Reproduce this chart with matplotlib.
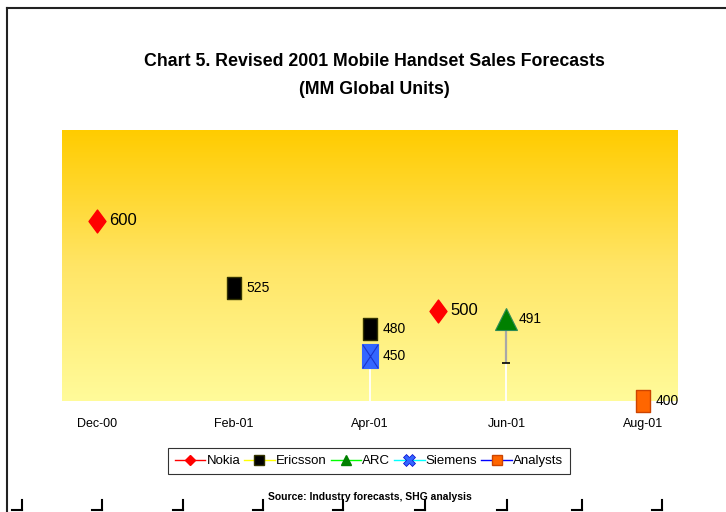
import matplotlib
matplotlib.use("Agg")
import matplotlib.pyplot as plt
import numpy as np
from matplotlib.path import Path
from matplotlib.lines import Line2D
from matplotlib.colors import LinearSegmentedColormap

plt.rcParams['font.family'] = ['Liberation Sans', 'DejaVu Sans']

# ---- data ----
month_labels = ["Dec-00", "Feb-01", "Apr-01", "Jun-01", "Aug-01"]
month_ticks = [0, 2, 4, 6, 8]          # months after Dec-00

nokia_x = [0, 5]
nokia_y = [600, 500]
ericsson_x = [2, 4]
ericsson_y = [525, 480]
arc_x = [6]
arc_y = [491]
arc_low = [442]
siemens_x = [4]
siemens_y = [450]
analysts_x = [8]
analysts_y = [400]

y_min, y_max = 400, 701

# ---- figure ----
W, H = 726, 512
fig = plt.figure(figsize=(W / 100, H / 100), dpi=100)
fig.patch.set_facecolor("white")

L, R, T, B = 62, 678, 130, 401
ax = fig.add_axes([L / W, 1 - B / H, (R - L) / W, (B - T) / H])
ax.set_xlim(-0.513, 8.513)
ax.set_ylim(y_min, y_max)

# gradient background
cmap = LinearSegmentedColormap.from_list("bg", ["#FFFB9A", "#FFE566", "#FFCC00"])
grad = np.linspace(0, 1, 256).reshape(-1, 1)
ax.imshow(grad, extent=[0, 1, 0, 1], transform=ax.transAxes, cmap=cmap,
          aspect="auto", origin="lower", zorder=0)

for s in ax.spines.values():
    s.set_visible(False)
ax.set_yticks([])
ax.set_xticks(month_ticks)
ax.set_xticklabels(month_labels, fontsize=9)
ax.tick_params(axis="x", length=0, pad=12)

# drop lines
ax.vlines(siemens_x, y_min, siemens_y, colors="white", lw=1.3, zorder=2)
ax.vlines(arc_x, y_min, arc_low, colors="white", lw=1.3, zorder=2)
ax.vlines(arc_x, arc_low, arc_y, colors="#A8A8A8", lw=1.6, zorder=2)
ax.plot(arc_x, arc_low, marker="_", ms=6, mew=1.2, color="black", ls="none", zorder=3)

rect = [(-0.33, -0.5), (0.33, -0.5), (0.33, 0.5), (-0.33, 0.5), (-0.33, -0.5)]
rect_marker = Path(rect, [Path.MOVETO, Path.LINETO, Path.LINETO, Path.LINETO, Path.CLOSEPOLY])
xmark = Path([(-0.33, -0.5), (0.33, 0.5), (-0.33, 0.5), (0.33, -0.5)],
             [Path.MOVETO, Path.LINETO, Path.MOVETO, Path.LINETO])
diamond = Path([(0, -0.5), (0.37, 0), (0, 0.5), (-0.37, 0), (0, -0.5)],
               [Path.MOVETO, Path.LINETO, Path.LINETO, Path.LINETO, Path.CLOSEPOLY])

kw = dict(ls="none", zorder=4, clip_on=False)
ax.plot(nokia_x, nokia_y, marker=diamond, ms=16.5, mfc="#FF0000", mec="#FF0000", **kw)
ax.plot(ericsson_x, ericsson_y, marker=rect_marker, ms=16, mfc="black", mec="#333300", mew=1, **kw)
ax.plot(arc_x, arc_y, marker="^", ms=16, mfc="#008000", mec="#2E8B57", mew=0.8, **kw)
ax.plot(siemens_x, siemens_y, marker=rect_marker, ms=17, mfc="#3366FF", mec="#3366FF", mew=0.8, **kw)
ax.plot(siemens_x, siemens_y, marker=xmark, ms=17, mfc="none", mec="#1A33CC", mew=0.8, **kw)
ax.plot(analysts_x, analysts_y, marker=rect_marker, ms=16, mfc="#FF6600", mec="#CC4400", mew=1, **kw)

# data labels
def label(xs, ys, size):
    for x, y in zip(xs, ys):
        ax.annotate(f"{y}", (x, y), xytext=(9, 0), textcoords="offset points",
                    va="center", ha="left", fontsize=size, zorder=5, annotation_clip=False)

label(nokia_x, nokia_y, 12)
label(ericsson_x, ericsson_y, 10)
label(arc_x, arc_y, 10)
label(siemens_x, siemens_y, 10)
label(analysts_x, analysts_y, 10)

# legend
handles = [
    Line2D([], [], color="#FF0000", lw=1, marker="D", ms=5, mfc="#FF0000", mec="#FF0000"),
    Line2D([], [], color="#FFFF00", lw=1, marker="s", ms=7, mfc="black", mec="#333300"),
    Line2D([], [], color="#00FF00", lw=1, marker="^", ms=7, mfc="#008000", mec="#008000"),
    Line2D([], [], color="#00FFFF", lw=1, marker="X", ms=8, mfc="#3366FF", mec="#0000CC", mew=0.5),
    Line2D([], [], color="#0000FF", lw=1, marker="s", ms=7, mfc="#FF6600", mec="#CC4400"),
]
names = ["Nokia", "Ericsson", "ARC", "Siemens", "Analysts"]
leg = fig.legend(handles, names, loc="center", bbox_to_anchor=(369 / W, 1 - 461 / H),
                 ncol=5, fontsize=9.5, frameon=True, fancybox=False, handlelength=2.3,
                 handletextpad=0.1, columnspacing=0.3, borderpad=0.55, borderaxespad=0,
                 edgecolor="black")
leg.get_frame().set_linewidth(0.8)

# titles
fig.text(374 / W, 1 - 61 / H, "Chart 5. Revised 2001 Mobile Handset Sales Forecasts",
         ha="center", va="center", fontsize=12.8, fontweight="bold")
fig.text(374 / W, 1 - 89 / H, "(MM Global Units)",
         ha="center", va="center", fontsize=12.8, fontweight="bold")
fig.text(370 / W, 1 - 497 / H, "Source: Industry forecasts, SHG analysis",
         ha="center", va="center", fontsize=7.5, fontweight="bold", zorder=5)

# page border
fig.add_artist(Line2D([7 / W, 7 / W], [0, 1 - 8 / H], color="#222222", lw=1.5))
fig.add_artist(Line2D([7 / W, 1], [1 - 8 / H, 1 - 8 / H], color="#222222", lw=1.5))

# crop marks
for xr in [22, 102, 183, 263, 343, 425, 507, 582, 662]:
    fig.add_artist(Line2D([xr / W, xr / W], [1 - 500 / H, 1 - 510 / H], color="black", lw=1.5))
    fig.add_artist(Line2D([(xr - 10) / W, xr / W], [1 - 510 / H, 1 - 510 / H], color="black", lw=1.5))

fig.savefig("out.png", dpi=100)
